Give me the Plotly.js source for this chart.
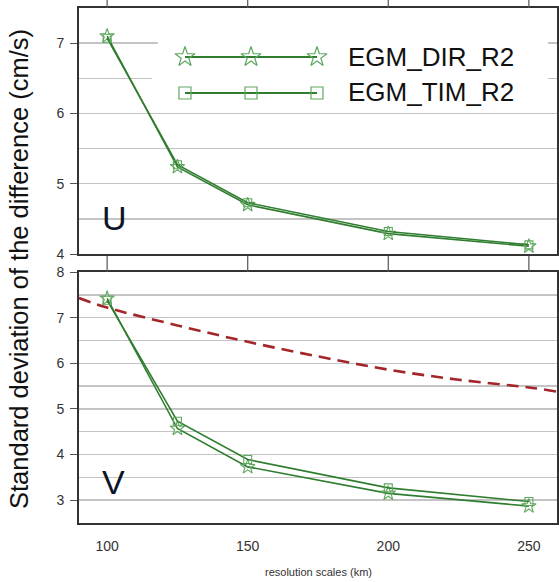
<!DOCTYPE html>
<html><head><meta charset="utf-8">
<script src="https://cdn.plot.ly/plotly-3.0.1.min.js"></script>
<style>html,body{margin:0;padding:0;background:#fff}</style>
</head><body><div id="chart" style="width:559px;height:582px"></div>
<script>
// ---- data ----
const scales = [100, 125, 150, 200, 250];
const uDir = [7.10, 5.24, 4.70, 4.29, 4.11];
const uTim = [7.07, 5.27, 4.73, 4.32, 4.13];
const vDir = [7.42, 4.57, 3.73, 3.15, 2.87];
const vTim = [7.38, 4.73, 3.89, 3.27, 2.97];
const refX = [90, 100, 125, 150, 175, 200, 225, 250, 260];
const refV = [7.43, 7.22, 6.83, 6.47, 6.15, 5.86, 5.64, 5.47, 5.38];
const seriesNames = ['EGM_DIR_R2', 'EGM_TIM_R2'];
const panelLabels = ['U', 'V'];
const xTicks = [100, 150, 200, 250];
const yTitle = 'Standard deviation of the difference (cm/s)';
const xTitle = 'resolution scales (km)';

const green = '#2f7d2f';
const mgreen = '#5fa85f';
const font = 'Liberation Sans, Arial, sans-serif';
const xRange = [90, 260];
const uRange = [4, 7.5];
const vRange = [2.5, 8];

function series(x, y, xa, ya, sym, size) {
  return {x: x, y: y, xaxis: xa, yaxis: ya, type: 'scatter', mode: 'lines+markers',
    line: {color: green, width: 1.6},
    marker: {symbol: sym, size: size, color: mgreen, line: {color: mgreen, width: 1.1}},
    showlegend: false, cliponaxis: false, hoverinfo: 'skip'};
}

const traces = [
  series(scales, uDir, 'x', 'y', 'star-open', 11),
  series(scales, uTim, 'x', 'y', 'square-open', 8),
  series(scales, vDir, 'x2', 'y2', 'star-open', 11),
  series(scales, vTim, 'x2', 'y2', 'square-open', 8),
  {x: refX, y: refV, xaxis: 'x2', yaxis: 'y2', type: 'scatter', mode: 'lines',
   line: {color: '#a3262a', width: 2.6, dash: '12px,7px', shape: 'spline'}, showlegend: false, hoverinfo: 'skip'},
  // legend samples on a hidden overlay axis
  {x: [0, 0.5, 1], y: [1, 1, 1], xaxis: 'x4', yaxis: 'y4', type: 'scatter', mode: 'lines+markers',
   line: {color: green, width: 1.8}, marker: {symbol: 'star-open', size: 15, color: mgreen, line: {color: mgreen, width: 1.2}},
   showlegend: false, cliponaxis: false, hoverinfo: 'skip'},
  {x: [0, 0.5, 1], y: [0, 0, 0], xaxis: 'x4', yaxis: 'y4', type: 'scatter', mode: 'lines+markers',
   line: {color: green, width: 1.8}, marker: {symbol: 'square-open', size: 12, color: mgreen, line: {color: mgreen, width: 1.2}},
   showlegend: false, cliponaxis: false, hoverinfo: 'skip'}
];

const W = 559, H = 582;
const L = 79, R = 2, T = 8, B = 59;
const pw = W - L - R, ph = H - T - B;
const px = v => (v - L) / pw;
const py = v => (H - B - v) / ph;
const frac = (r, f) => r[0] + f * (r[1] - r[0]);

const yCommon = {
  showline: true, mirror: true, linecolor: '#333', linewidth: 2,
  ticks: 'outside', ticklen: 7, tickcolor: '#555', tickwidth: 1, ticklabelstandoff: 3,
  dtick: 1, tick0: 0, showgrid: true, gridcolor: '#c4c4c4', gridwidth: 1.5,
  minor: {dtick: 0.5, showgrid: true, gridcolor: '#c4c4c4', gridwidth: 1.5},
  tickfont: {family: font, size: 14, color: '#333'}, zeroline: false, fixedrange: true
};

// legend sample box: markers at x 185..317 px, rows at y 57 and 93 px
const lgX0 = 185, lgX1 = 317, lgY0 = 57, lgY1 = 93, padU = 0.25;
const lgDx = (lgX1 - lgX0) * padU, lgDy = (lgY1 - lgY0) * padU;

// x tick marks above each panel (drawn at the tick values)
const tickShapes = [];
xTicks.forEach(v => {
  tickShapes.push({type: 'line', xref: 'x', yref: 'paper', x0: v, x1: v, y0: 1, y1: py(-2),
    line: {color: '#555', width: 1.2}, layer: 'above'});
  tickShapes.push({type: 'line', xref: 'x2', yref: 'paper', x0: v, x1: v, y0: py(272), y1: py(256),
    line: {color: '#555', width: 1.2}, layer: 'above'});
});

const layout = {
  width: W, height: H,
  margin: {l: L, r: R, t: T, b: B},
  paper_bgcolor: '#fff', plot_bgcolor: '#fff',
  font: {family: font},
  xaxis: {domain: [0, 1], anchor: 'y', range: xRange, side: 'top',
    tickvals: xTicks, showticklabels: false, ticks: '',
    showline: true, mirror: true, linecolor: '#333', linewidth: 2, showgrid: false, zeroline: false},
  yaxis: Object.assign({}, yCommon, {domain: [py(254), 1], anchor: 'x', range: uRange}),
  xaxis2: {domain: [0, 1], anchor: 'y2', range: xRange,
    tickvals: xTicks, ticks: '', showline: true, mirror: true, linecolor: '#333', linewidth: 2,
    ticklabelstandoff: 9,
    showgrid: false, zeroline: false, tickfont: {family: font, size: 14, color: '#333'}},
  yaxis2: Object.assign({}, yCommon, {domain: [0, py(272)], anchor: 'x2', range: vRange}),
  xaxis4: {domain: [px(lgX0 - lgDx), px(lgX1 + lgDx)], anchor: 'y4', range: [-padU, 1 + padU], visible: false, fixedrange: true},
  yaxis4: {domain: [py(lgY1 + lgDy), py(lgY0 - lgDy)], anchor: 'x4', range: [-padU, 1 + padU], visible: false, fixedrange: true},
  shapes: [
    {type: 'rect', xref: 'x', yref: 'y', x0: frac(xRange, 0.165), x1: frac(xRange, 0.981),
     y0: frac(uRange, 0.59), y1: frac(uRange, 0.92),
     fillcolor: '#fff', line: {width: 0}, layer: 'between'}
  ].concat(tickShapes),
  annotations: [
    {text: seriesNames[0], xref: 'paper', yref: 'paper', x: px(346), y: py(57), xanchor: 'left', yanchor: 'middle',
     showarrow: false, font: {family: font, size: 26, color: '#111'}},
    {text: seriesNames[1], xref: 'paper', yref: 'paper', x: px(346), y: py(92), xanchor: 'left', yanchor: 'middle',
     showarrow: false, font: {family: font, size: 26, color: '#111'}},
    {text: panelLabels[0], xref: 'paper', yref: 'paper', x: px(100), y: py(218), xanchor: 'left', yanchor: 'middle',
     showarrow: false, font: {family: font, size: 34, color: '#0d1428'}},
    {text: panelLabels[1], xref: 'paper', yref: 'paper', x: px(100), y: py(482), xanchor: 'left', yanchor: 'middle',
     showarrow: false, font: {family: font, size: 34, color: '#0d1428'}},
    {text: yTitle, xref: 'paper', yref: 'paper', x: px(19), y: py(269), xanchor: 'center', yanchor: 'middle',
     textangle: -90, showarrow: false, font: {family: font, size: 25.5, color: '#111'}},
    {text: xTitle, xref: 'paper', yref: 'paper', x: px(318), y: py(572), xanchor: 'center', yanchor: 'middle',
     showarrow: false, font: {family: font, size: 11, color: '#333'}}
  ]
};

Plotly.newPlot('chart', traces, layout, {staticPlot: true, displayModeBar: false});
</script></body></html>
